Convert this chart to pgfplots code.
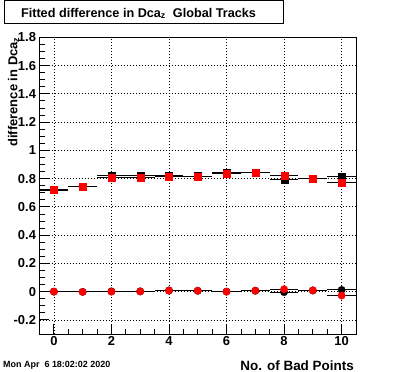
\documentclass[border=0pt]{standalone}
\usepackage{fontspec}
\setmainfont{Liberation Sans}
\usepackage{pgfplots}
\pgfplotsset{compat=1.18}
\begin{document}
\begin{tikzpicture}[x=1bp,y=1bp]
\useasboundingbox (0,0) rectangle (396,372);
\begin{axis}[
  at={(39.5bp,38bp)}, anchor=south west,
  scale only axis, width=316.5bp, height=296.7bp,
  xmin=-0.5, xmax=10.5, ymin=-0.3, ymax=1.8,
  xtick={0,2,4,6,8,10}, ytick={-0.2,0,0.2,0.4,0.6,0.8,1,1.2,1.4,1.6,1.8},
  minor x tick num=3, minor y tick num=3,
  tick pos=left, tick align=inside,
  major tick length=9.5bp, minor tick length=5bp,
  tick style={black, line width=0.8bp},
  axis line style={line width=1bp},
  grid=major,
  major grid style={black, line width=0.7bp, dash pattern=on 1bp off 2bp},
  /pgf/number format/assume math mode=true,
  ticklabel style={font=\fontsize{13}{14}\selectfont\bfseries},
  yticklabel style={/pgf/number format/fixed, /pgf/number format/precision=1},
  xticklabel style={yshift=1bp},
  error bars/error bar style={black, line width=1bp},
]
% lower black
\addplot[only marks, mark=*, mark size=3.8bp, mark options={fill=black, draw=black, line width=0.1bp},
  error bars/.cd, x dir=both, x fixed=0.5, error mark=none]
coordinates {(0,0.0) (1,-0.002) (2,0.002) (3,0.002) (4,0.008) (5,0.006) (6,0.0) (7,0.006) (8,-0.004) (9,0.008) (10,0.012)};
% lower red
\addplot[only marks, mark=*, mark size=3.8bp, mark options={fill=red, draw=red, line width=0.1bp},
  error bars/.cd, x dir=both, x fixed=0.5, error mark=none]
coordinates {(0,0.0) (1,-0.002) (2,0.0) (3,0.001) (4,0.007) (5,0.006) (6,0.0) (7,0.007) (8,0.017) (9,0.009) (10,-0.028)};
% upper black
\addplot[only marks, mark=square*, mark size=3.5bp, mark options={fill=black, draw=black, line width=0.1bp},
  error bars/.cd, x dir=both, x fixed=0.5, error mark=none]
coordinates {(0,0.72) (1,0.745) (2,0.823) (3,0.823) (4,0.82) (5,0.818) (6,0.84) (7,0.843) (8,0.794) (9,0.803) (10,0.815)};
% upper red
\addplot[only marks, mark=square*, mark size=3.5bp, mark options={fill=red, draw=red, line width=0.1bp},
  error bars/.cd, x dir=both, x fixed=0.5, error mark=none]
coordinates {(0,0.719) (1,0.742) (2,0.808) (3,0.808) (4,0.815) (5,0.813) (6,0.834) (7,0.841) (8,0.825) (9,0.799) (10,0.775)};
\end{axis}
% title box
\draw[line width=1bp] (4,348) rectangle (283,371);
\node[anchor=base, inner sep=0pt, font=\fontsize{12.7}{14}\selectfont\bfseries] at (138.5,355) {Fitted difference in Dca\textsubscript{z}\ \ Global Tracks};
% y label
\node[rotate=90, anchor=base east, inner sep=0pt, font=\fontsize{13}{14}\selectfont\bfseries] at (17.3,335) {difference in Dca\textsubscript{z}};
% x label
\node[anchor=base east, inner sep=0pt, font=\fontsize{13.5}{14}\selectfont\bfseries] at (354,2) {No. of Bad Points};
% date
\node[anchor=base west, inner sep=0pt, font=\fontsize{9}{10}\selectfont\bfseries] at (3,4.7) {Mon Apr\ \ 6 18:02:02 2020};
\end{tikzpicture}
\end{document}
